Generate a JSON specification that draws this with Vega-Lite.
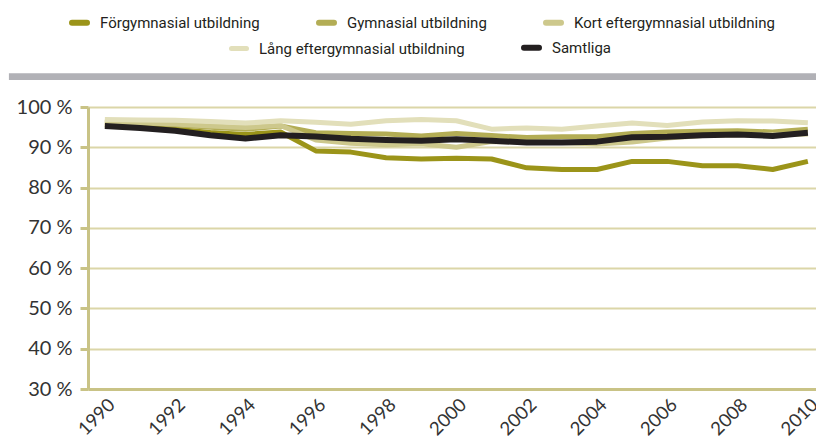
{
"$schema": "https://vega.github.io/schema/vega-lite/v6.json",
"padding": {"left": 8, "top": 12, "right": 0, "bottom": 0},
"background": "white",
"width": 729, "height": 282,
"config": {"view": {"stroke": null}},
"datasets": {"edu": [
{"year":1990,"series":"Förgymnasial utbildning","value":95.6},{"year":1991,"series":"Förgymnasial utbildning","value":95.1},{"year":1992,"series":"Förgymnasial utbildning","value":94.5},{"year":1993,"series":"Förgymnasial utbildning","value":93.7},{"year":1994,"series":"Förgymnasial utbildning","value":93.2},{"year":1995,"series":"Förgymnasial utbildning","value":93.8},{"year":1996,"series":"Förgymnasial utbildning","value":89.1},{"year":1997,"series":"Förgymnasial utbildning","value":88.8},{"year":1998,"series":"Förgymnasial utbildning","value":87.4},{"year":1999,"series":"Förgymnasial utbildning","value":87.1},{"year":2000,"series":"Förgymnasial utbildning","value":87.3},{"year":2001,"series":"Förgymnasial utbildning","value":87.1},{"year":2002,"series":"Förgymnasial utbildning","value":84.9},{"year":2003,"series":"Förgymnasial utbildning","value":84.5},{"year":2004,"series":"Förgymnasial utbildning","value":84.5},{"year":2005,"series":"Förgymnasial utbildning","value":86.5},{"year":2006,"series":"Förgymnasial utbildning","value":86.5},{"year":2007,"series":"Förgymnasial utbildning","value":85.4},{"year":2008,"series":"Förgymnasial utbildning","value":85.4},{"year":2009,"series":"Förgymnasial utbildning","value":84.5},{"year":2010,"series":"Förgymnasial utbildning","value":86.5},
{"year":1990,"series":"Gymnasial utbildning","value":96.2},{"year":1991,"series":"Gymnasial utbildning","value":96.0},{"year":1992,"series":"Gymnasial utbildning","value":95.6},{"year":1993,"series":"Gymnasial utbildning","value":95.0},{"year":1994,"series":"Gymnasial utbildning","value":94.5},{"year":1995,"series":"Gymnasial utbildning","value":95.3},{"year":1996,"series":"Gymnasial utbildning","value":93.6},{"year":1997,"series":"Gymnasial utbildning","value":93.4},{"year":1998,"series":"Gymnasial utbildning","value":93.3},{"year":1999,"series":"Gymnasial utbildning","value":92.8},{"year":2000,"series":"Gymnasial utbildning","value":93.4},{"year":2001,"series":"Gymnasial utbildning","value":92.9},{"year":2002,"series":"Gymnasial utbildning","value":92.4},{"year":2003,"series":"Gymnasial utbildning","value":92.6},{"year":2004,"series":"Gymnasial utbildning","value":92.6},{"year":2005,"series":"Gymnasial utbildning","value":93.4},{"year":2006,"series":"Gymnasial utbildning","value":93.8},{"year":2007,"series":"Gymnasial utbildning","value":94.0},{"year":2008,"series":"Gymnasial utbildning","value":94.1},{"year":2009,"series":"Gymnasial utbildning","value":93.8},{"year":2010,"series":"Gymnasial utbildning","value":94.5},
{"year":1990,"series":"Kort eftergymnasial utbildning","value":96.3},{"year":1991,"series":"Kort eftergymnasial utbildning","value":96.1},{"year":1992,"series":"Kort eftergymnasial utbildning","value":95.8},{"year":1993,"series":"Kort eftergymnasial utbildning","value":95.3},{"year":1994,"series":"Kort eftergymnasial utbildning","value":94.9},{"year":1995,"series":"Kort eftergymnasial utbildning","value":95.4},{"year":1996,"series":"Kort eftergymnasial utbildning","value":91.8},{"year":1997,"series":"Kort eftergymnasial utbildning","value":91.0},{"year":1998,"series":"Kort eftergymnasial utbildning","value":90.6},{"year":1999,"series":"Kort eftergymnasial utbildning","value":90.9},{"year":2000,"series":"Kort eftergymnasial utbildning","value":90.0},{"year":2001,"series":"Kort eftergymnasial utbildning","value":91.4},{"year":2002,"series":"Kort eftergymnasial utbildning","value":91.3},{"year":2003,"series":"Kort eftergymnasial utbildning","value":91.2},{"year":2004,"series":"Kort eftergymnasial utbildning","value":90.8},{"year":2005,"series":"Kort eftergymnasial utbildning","value":91.3},{"year":2006,"series":"Kort eftergymnasial utbildning","value":92.3},{"year":2007,"series":"Kort eftergymnasial utbildning","value":92.9},{"year":2008,"series":"Kort eftergymnasial utbildning","value":93.1},{"year":2009,"series":"Kort eftergymnasial utbildning","value":93.2},{"year":2010,"series":"Kort eftergymnasial utbildning","value":93.3},
{"year":1990,"series":"Lång eftergymnasial utbildning","value":96.9},{"year":1991,"series":"Lång eftergymnasial utbildning","value":96.8},{"year":1992,"series":"Lång eftergymnasial utbildning","value":96.7},{"year":1993,"series":"Lång eftergymnasial utbildning","value":96.4},{"year":1994,"series":"Lång eftergymnasial utbildning","value":96.0},{"year":1995,"series":"Lång eftergymnasial utbildning","value":96.6},{"year":1996,"series":"Lång eftergymnasial utbildning","value":96.2},{"year":1997,"series":"Lång eftergymnasial utbildning","value":95.7},{"year":1998,"series":"Lång eftergymnasial utbildning","value":96.6},{"year":1999,"series":"Lång eftergymnasial utbildning","value":96.9},{"year":2000,"series":"Lång eftergymnasial utbildning","value":96.6},{"year":2001,"series":"Lång eftergymnasial utbildning","value":94.5},{"year":2002,"series":"Lång eftergymnasial utbildning","value":94.8},{"year":2003,"series":"Lång eftergymnasial utbildning","value":94.5},{"year":2004,"series":"Lång eftergymnasial utbildning","value":95.3},{"year":2005,"series":"Lång eftergymnasial utbildning","value":96.0},{"year":2006,"series":"Lång eftergymnasial utbildning","value":95.4},{"year":2007,"series":"Lång eftergymnasial utbildning","value":96.3},{"year":2008,"series":"Lång eftergymnasial utbildning","value":96.6},{"year":2009,"series":"Lång eftergymnasial utbildning","value":96.5},{"year":2010,"series":"Lång eftergymnasial utbildning","value":96.1},
{"year":1990,"series":"Samtliga","value":95.3},{"year":1991,"series":"Samtliga","value":94.8},{"year":1992,"series":"Samtliga","value":94.1},{"year":1993,"series":"Samtliga","value":93.0},{"year":1994,"series":"Samtliga","value":92.2},{"year":1995,"series":"Samtliga","value":93.0},{"year":1996,"series":"Samtliga","value":92.7},{"year":1997,"series":"Samtliga","value":92.1},{"year":1998,"series":"Samtliga","value":91.8},{"year":1999,"series":"Samtliga","value":91.6},{"year":2000,"series":"Samtliga","value":92.0},{"year":2001,"series":"Samtliga","value":91.6},{"year":2002,"series":"Samtliga","value":91.2},{"year":2003,"series":"Samtliga","value":91.2},{"year":2004,"series":"Samtliga","value":91.4},{"year":2005,"series":"Samtliga","value":92.5},{"year":2006,"series":"Samtliga","value":92.6},{"year":2007,"series":"Samtliga","value":93.0},{"year":2008,"series":"Samtliga","value":93.2},{"year":2009,"series":"Samtliga","value":92.8},{"year":2010,"series":"Samtliga","value":93.6}
]},
"layer": [
{
"data": {"values": [{"band": "rubrik", "start": 1987.27, "end": 2010.26, "low": 106.7, "high": 108.4}]},
"mark": {"type": "rect", "color": "#b1b1b6", "clip": false},
"encoding": {
"x": {"field": "start", "type": "quantitative", "scale": {"domain": [1989.52, 2010.26], "nice": false, "zero": false},
"axis": {"title": null, "values": [1990,1992,1994,1996,1998,2000,2002,2004,2006,2008,2010], "format": "d", "labelAngle": -45, "ticks": false, "grid": false, "domainColor": "#c9c386", "domainWidth": 3, "labelFont": "Lato", "labelFontSize": 18.5, "labelColor": "#333333", "labelPadding": 6, "labelDx": -10}},
"x2": {"field": "end"},
"y": {"field": "low", "type": "quantitative", "scale": {"domain": [30, 100], "nice": false, "zero": false},
"axis": {"title": null, "values": [30,40,50,60,70,80,90,100], "labelExpr": "datum.value + ' %'", "domainColor": "#c9c386", "domainWidth": 3, "tickColor": "#c9c386", "tickWidth": 3, "tickSize": 8, "grid": true, "gridColor": "#dbd6a8", "gridWidth": 2, "labelFont": "Lato", "labelFontSize": 20, "labelColor": "#333333", "labelPadding": 8}},
"y2": {"field": "high"}
}
},
{
"data": {"name": "edu"},
"transform": [{"filter": "datum.series != 'Lång eftergymnasial utbildning' && datum.series != 'Samtliga'"}],
"mark": {"type": "line", "strokeWidth": 5, "strokeJoin": "round"},
"encoding": {
"x": {"field": "year", "type": "quantitative"},
"y": {"field": "value", "type": "quantitative"},
"color": {"field": "series", "type": "nominal",
"scale": {"domain": ["Förgymnasial utbildning", "Gymnasial utbildning", "Kort eftergymnasial utbildning"], "range": ["#9b9419", "#b3ad55", "#cdc88c"]},
"legend": {"title": null, "orient": "none", "direction": "horizontal", "legendX": -19, "legendY": -95, "symbolType": "stroke", "symbolSize": 225, "symbolStrokeWidth": 6, "labelFont": "Roboto", "labelFontSize": 15, "labelLimit": 0, "labelColor": "#231f20", "labelOffset": 10, "columnPadding": 47, "encode": {"symbols": {"update": {"strokeCap": {"value": "round"}}}}}
}
}
},
{
"data": {"name": "edu"},
"transform": [{"filter": "datum.series == 'Lång eftergymnasial utbildning' || datum.series == 'Samtliga'"}],
"mark": {"type": "line", "strokeJoin": "round"},
"encoding": {
"x": {"field": "year", "type": "quantitative"},
"y": {"field": "value", "type": "quantitative"},
"stroke": {"field": "series", "type": "nominal",
"scale": {"domain": ["Lång eftergymnasial utbildning", "Samtliga"], "range": ["#e2dfba", "#231f20"]},
"legend": {"title": null, "orient": "none", "direction": "horizontal", "legendX": 141, "legendY": -70, "symbolType": "stroke", "symbolSize": 225, "symbolStrokeWidth": 6, "labelFont": "Roboto", "labelFontSize": 15, "labelLimit": 0, "labelColor": "#231f20", "labelOffset": 10, "columnPadding": 47, "encode": {"symbols": {"update": {"strokeCap": {"value": "round"}}}}}
},
"strokeWidth": {"field": "series", "type": "nominal", "scale": {"domain": ["Lång eftergymnasial utbildning", "Samtliga"], "range": [5, 6]}, "legend": null}
}
}
]
}
